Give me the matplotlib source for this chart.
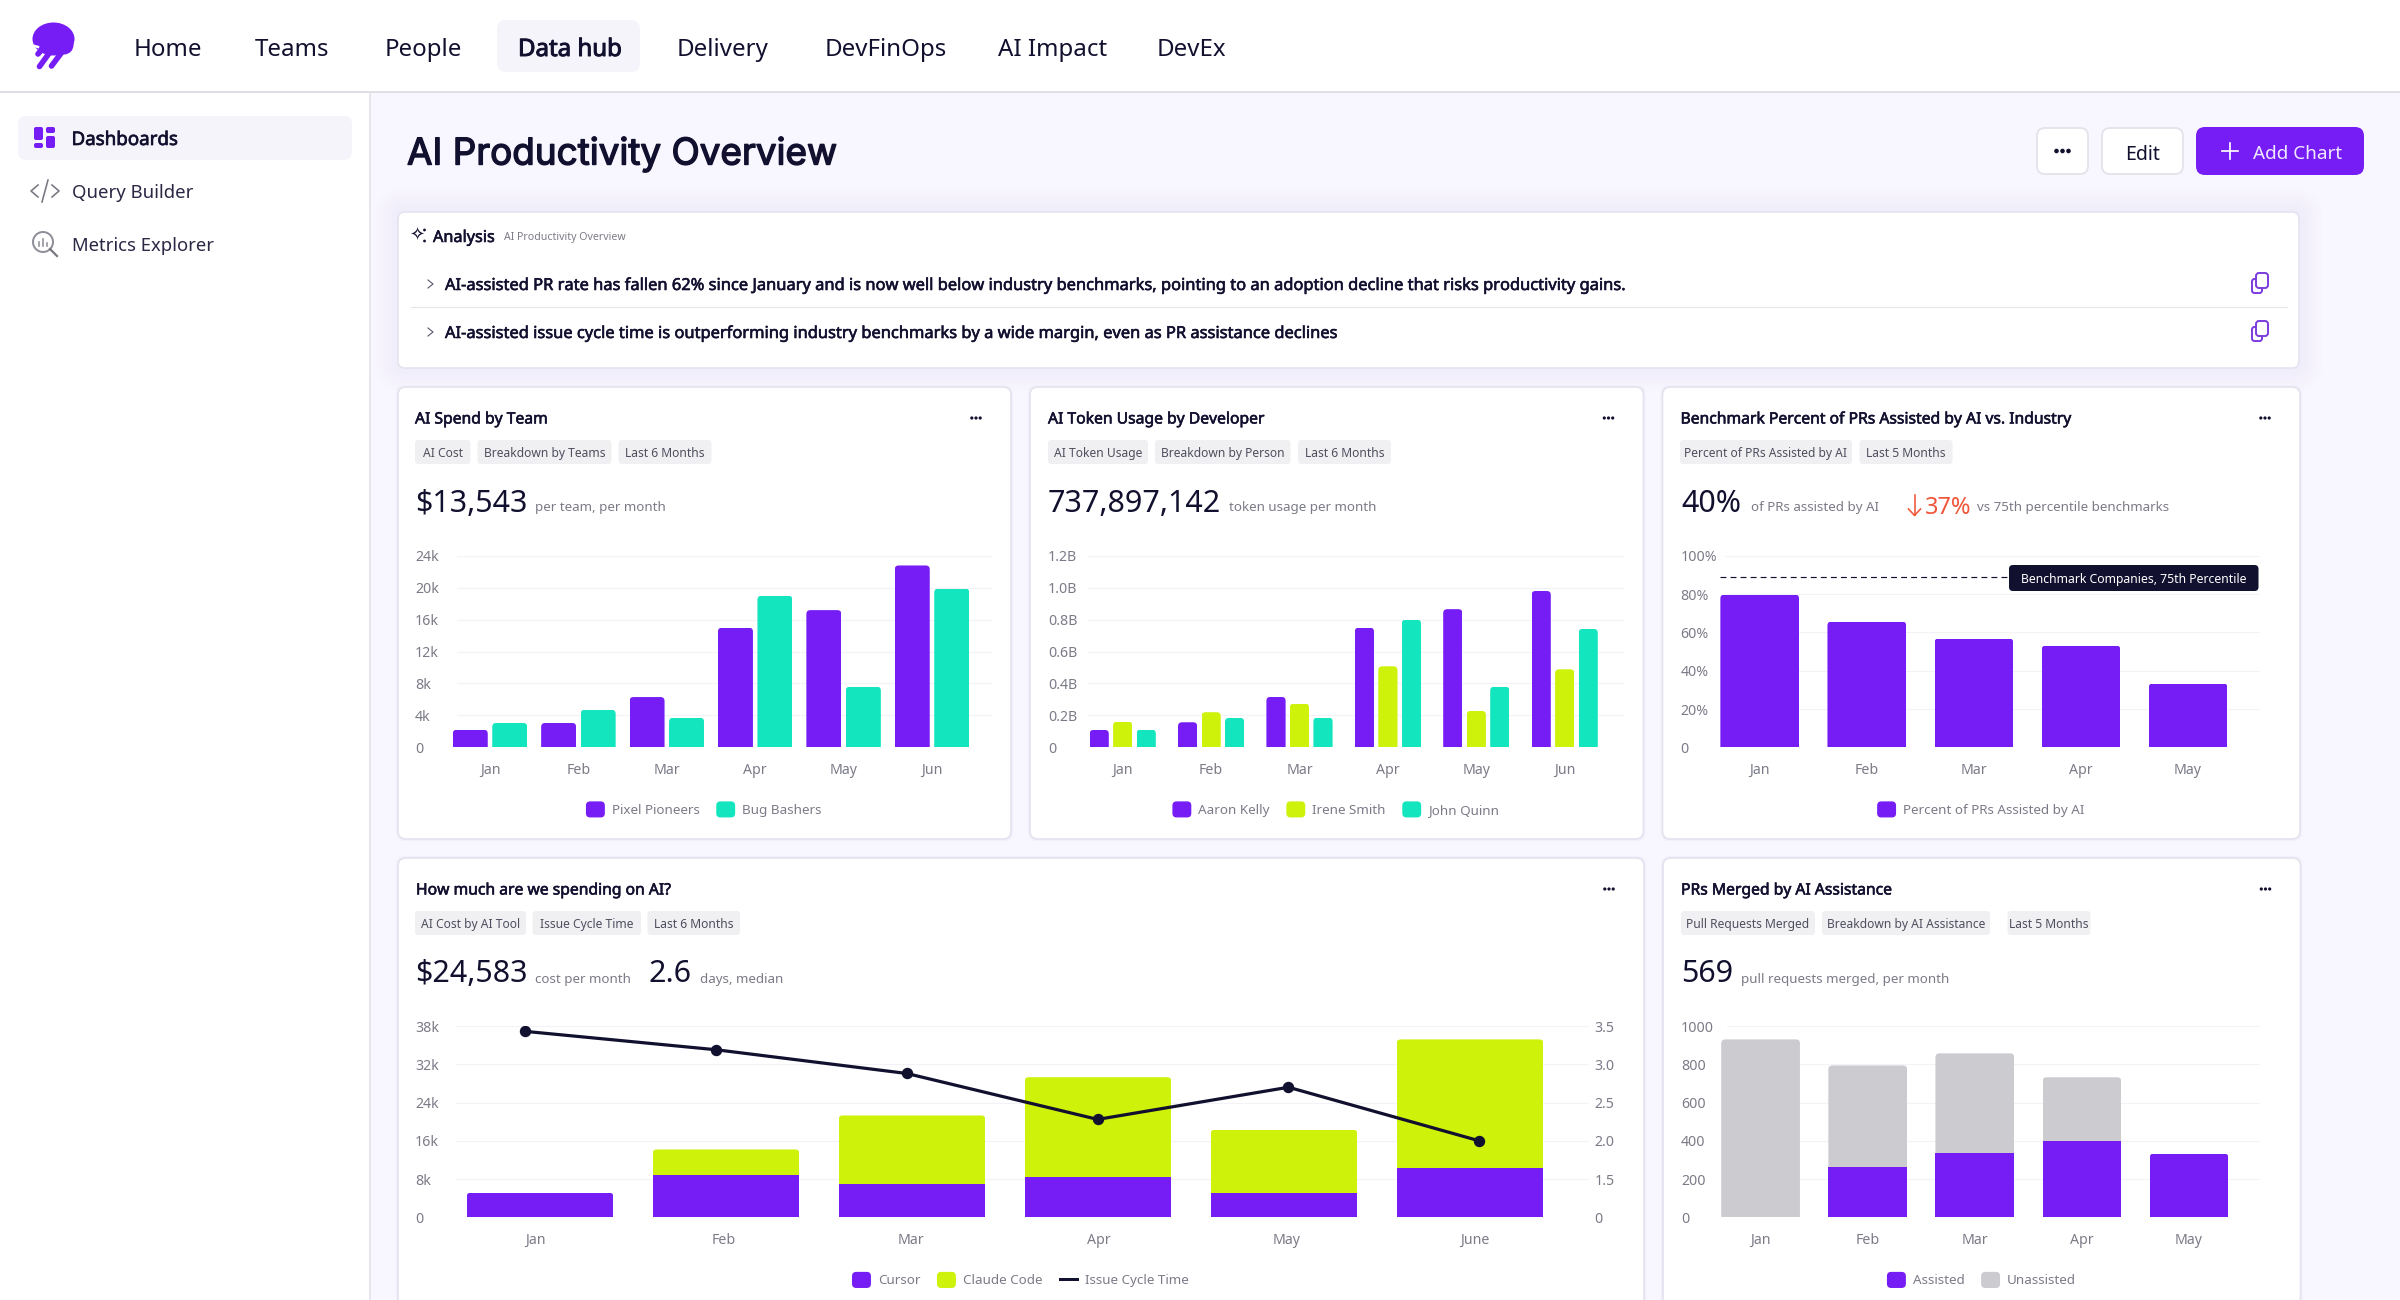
import numpy as np
import matplotlib
matplotlib.use("Agg")
import matplotlib.pyplot as plt
import matplotlib.patheffects as pe
from matplotlib.colors import to_rgb
from matplotlib.patches import FancyBboxPatch, Patch, Ellipse, Circle, Rectangle
from matplotlib.lines import Line2D
from matplotlib.legend_handler import HandlerPatch
from matplotlib.transforms import IdentityTransform

# ---------- data ----------
months6 = ["Jan", "Feb", "Mar", "Apr", "May", "Jun"]
months5 = ["Jan", "Feb", "Mar", "Apr", "May"]
months6b = ["Jan", "Feb", "Mar", "Apr", "May", "June"]

pixel_pioneers = [2.2, 3.05, 6.3, 15.0, 17.2, 22.8]
bug_bashers = [3.05, 4.7, 3.7, 19.0, 7.6, 19.9]
spend_ticks = [0, 4, 8, 12, 16, 20, 24]
spend_labels = ["0", "4k", "8k", "12k", "16k", "20k", "24k"]

aaron_kelly = [0.109, 0.157, 0.316, 0.75, 0.866, 0.98]
irene_smith = [0.161, 0.22, 0.274, 0.508, 0.228, 0.489]
john_quinn = [0.111, 0.184, 0.186, 0.80, 0.38, 0.742]
token_ticks = [0, 0.2, 0.4, 0.6, 0.8, 1.0, 1.2]
token_labels = ["0", "0.2B", "0.4B", "0.6B", "0.8B", "1.0B", "1.2B"]

pct_assisted = [79.8, 65.7, 56.8, 53.1, 33.3]
benchmark_pct = 89
pct_ticks = [0, 20, 40, 60, 80, 100]
pct_labels = ["0", "20%", "40%", "60%", "80%", "100%"]

cursor_cost = [5.16, 8.85, 7.04, 8.5, 5.16, 10.3]
claude_cost = [0, 5.35, 14.26, 20.8, 13.14, 25.6]
cost_ticks = [0, 8, 16, 24, 32, 38]
cost_labels = ["0", "8k", "16k", "24k", "32k", "38k"]
cycle_time = [3.43, 3.19, 2.88, 2.28, 2.70, 2.0]
cycle_ticks = [0, 1.5, 2.0, 2.5, 3.0, 3.5]
cycle_labels = ["0", "1.5", "2.0", "2.5", "3.0", "3.5"]

assisted = [0, 261, 334, 397, 333]
unassisted = [930, 533, 523, 335, 0]
pr_ticks = [0, 200, 400, 600, 800, 1000]
pr_labels = ["0", "200", "400", "600", "800", "1000"]

nav_items = ["Home", "Teams", "People", "Data hub", "Delivery", "DevFinOps", "AI Impact", "DevEx"]
side_items = ["Dashboards", "Query Builder", "Metrics Explorer"]
insights = [
    "AI-assisted PR rate has fallen 62% since January and is now well below industry benchmarks, pointing to an adoption decline that risks productivity gains.",
    "AI-assisted issue cycle time is outperforming industry benchmarks by a wide margin, even as PR assistance declines",
]

# ---------- style ----------
PURPLE = "#761CF5"
TEAL = "#13E5BE"
LIME = "#CEF20A"
GREY = "#CBCBD0"
NAVY = "#12102F"
MUTED = "#7B7B88"
PAGE = "#F8F6FE"
BODY = "Noto Sans"
PX = 0.72  # pt per px at dpi 100

plt.rcParams["font.family"] = [BODY, "DejaVu Sans"]
fig = plt.figure(figsize=(24, 13), dpi=100, facecolor="white")
bg = fig.add_axes([0, 0, 1, 1], zorder=0)
bg.set_xlim(0, 2400)
bg.set_ylim(1300, 0)
bg.axis("off")


def T(x, y, s, size=10, color=NAVY, ha="left", family=None, va="center_baseline", heavy=0, z=3):
    kw = {"family": family} if family else {}
    t = bg.text(x, y, s, fontsize=size, color=color, ha=ha, va=va, zorder=z, **kw)
    if heavy:
        t.set_path_effects([pe.withStroke(linewidth=heavy, foreground=color)])
    return t


def box(x0, y0, x1, y1, r=6, fc="white", ec="none", lw=1, z=1, alpha=None):
    p = FancyBboxPatch((x0 + r, y0 + r), x1 - x0 - 2 * r, y1 - y0 - 2 * r,
                       boxstyle=f"round,pad={r},rounding_size={r}", fc=fc, ec=ec, lw=lw, zorder=z, alpha=alpha)
    bg.add_patch(p)
    return p


def shadow(x0, y0, x1, y1, spread=26, deep="#F0EDFB", z=0.8):
    # opaque rings that fade from the page colour to a slightly deeper lavender
    a, b = np.array(to_rgb(PAGE)), np.array(to_rgb(deep))
    for s in range(spread, 0, -2):
        f = 1 - s / spread
        box(x0 - s, y0 - s, x1 + s, y1 + s, r=8 + s, fc=tuple(a + (b - a) * f), z=z + f / 100)


def dots(x, y, r=1.7, gap=4.5):
    for dx in (-gap, 0, gap):
        bg.add_patch(Circle((x + dx, y), r, fc=NAVY, ec="none", zorder=3))


# ---------- chrome ----------
bg.add_patch(Rectangle((369, 92), 2031, 1208, fc=PAGE, ec="none", zorder=0.2))
bg.plot([0, 2400], [92, 92], color="#DEDEE4", lw=2 * PX, zorder=0.5)
bg.plot([369.5, 369.5], [92, 1300], color="#E2E2E8", lw=1.5 * PX, zorder=0.5)

# logo
bg.add_patch(Ellipse((53.5, 39), 42, 33, fc=PURPLE, ec="none", zorder=2))
bg.add_patch(Circle((64, 45), 9.5, fc=PURPLE, ec="none", zorder=2))
for xs, ys in (([43, 38], [48, 54]), ([50, 39.5], [52, 66.5]), ([62, 51.5], [52, 66])):
    bg.plot(xs, ys, color=PURPLE, lw=5.6 * PX, solid_capstyle="round", zorder=2)
bg.plot([31, 38], [45, 47], color="white", lw=2.5 * PX, zorder=2.1)

box(497, 20, 640, 72, r=9, fc="#F6F4FB")
nav_x = [134, 255, 385, 518, 677, 824.5, 998, 1156.5]
for x, s in zip(nav_x, nav_items):
    T(x, 47, s, size=17.3, heavy=0.7 if s == "Data hub" else 0)

box(18, 116, 352, 160, r=8, fc="#F6F4FB")
for x0, y0, x1, y1 in ((34, 127, 43, 140), (46, 127, 55, 133), (34, 143, 43, 148), (46, 136, 55, 148)):
    box(x0, y0, x1, y1, r=2, fc=PURPLE, z=2)
T(71.5, 138, side_items[0], size=13.5, heavy=0.5)
T(71.5, 191, side_items[1], size=13.35, color="#2A2845")
T(71.5, 244, side_items[2], size=13.3, color="#2A2845")
ICON = "#777782"
bg.plot([38, 31, 38], [185, 191, 197], color=ICON, lw=1.6 * PX, zorder=2)
bg.plot([52, 59, 52], [185, 191, 197], color=ICON, lw=1.6 * PX, zorder=2)
bg.plot([42, 48], [202, 180], color=ICON, lw=1.6 * PX, zorder=2)
bg.add_patch(Circle((43, 242), 10, fc="none", ec="#8F8F99", lw=2 * PX, zorder=2))
bg.plot([50, 57], [249, 256], color=ICON, lw=2.2 * PX, zorder=2)
for dx, h in ((-4, 4), (0, 7), (4, 3)):
    bg.plot([43 + dx, 43 + dx], [246, 246 - h], color="#8F8F99", lw=1.6 * PX, zorder=2)

T(407, 150.5, "AI Productivity Overview", size=26.55, family="Inter", heavy=1.0)

box(2037, 128, 2088, 174, r=8, ec="#E4E3EA", lw=1.3)
dots(2062.5, 151, r=2.3, gap=6)
box(2102, 128, 2183, 174, r=8, ec="#E4E3EA", lw=1.3)
T(2143, 152, "Edit", size=14.1, ha="center")
box(2196, 127, 2364, 175, r=9, fc=PURPLE)
bg.plot([2222, 2238], [151, 151], color="white", lw=1.7 * PX, zorder=3)
bg.plot([2230, 2230], [143, 159], color="white", lw=1.7 * PX, zorder=3)
T(2253, 152, "Add Chart", size=13.6, color="#F0E8FF")

# analysis card
shadow(398, 212, 2299, 368, spread=26, deep="#EFECFA")
box(398, 212, 2299, 368, r=7, ec="#E5E3EF", lw=1.2)
T(409.5, 236, "\u2727", size=13, family="DejaVu Sans", va="center")
bg.add_patch(Circle((424.5, 230), 1.4, fc=NAVY, zorder=3))
bg.add_patch(Circle((424.5, 241), 1.4, fc=NAVY, zorder=3))
T(433, 236, "Analysis", size=11.7, heavy=0.4)
T(503.5, 236, "AI Productivity Overview", size=7.6, color=MUTED)
for y, s in zip((284, 332), insights):
    bg.plot([428, 433, 428], [y - 4, y, y + 4], color="#55556A", lw=1.1 * PX, zorder=3)
    T(445, y, s, size=11.85, heavy=0.42)
    box(2252, y - 5, 2262, y + 9, r=2.5, fc="none", ec="#7D3BE0", lw=1.4, z=3)
    box(2256, y - 11, 2268, y + 4, r=3, fc="white", ec="#7D3BE0", lw=1.4, z=3.1)
bg.plot([411, 2287], [307, 307], color="#E6E5EC", lw=1.2 * PX, zorder=3)

# cards
cards = [
    dict(x=(398, 1011), y=(387, 839), title="AI Spend by Team", tx=415, dots=976,
         pills=[("AI Cost", 415, 470.5), ("Breakdown by Teams", 477.5, 611.5), ("Last 6 Months", 618.5, 711.5)],
         stats=[(415, "$13,543", True), (535, "per team, per month", False)]),
    dict(x=(1030, 1643.5), y=(387, 839), title="AI Token Usage by Developer", tx=1048, dots=1608.5,
         pills=[("AI Token Usage", 1048, 1148), ("Breakdown by Person", 1155, 1290.5), ("Last 6 Months", 1298, 1391)],
         stats=[(1048, "737,897,142", True), (1229, "token usage per month", False)]),
    dict(x=(1662.5, 2300), y=(387, 839), title="Benchmark Percent of PRs Assisted by AI vs. Industry", tx=1680.5, dots=2265,
         pills=[("Percent of PRs Assisted by AI", 1680, 1852), ("Last 5 Months", 1859.5, 1952.5)],
         stats=[(1681, "40%", True), (1751, "of PRs assisted by AI", False), (1977, "vs 75th percentile benchmarks", False)]),
    dict(x=(398, 1644), y=(858, 1340), title="How much are we spending on AI?", tx=416, dots=1609,
         pills=[("AI Cost by AI Tool", 415, 526), ("Issue Cycle Time", 532.5, 641), ("Last 6 Months", 647.5, 740)],
         stats=[(415, "$24,583", True), (535, "cost per month", False), (649, "2.6", True), (700, "days, median", False)]),
    dict(x=(1663, 2300.5), y=(858, 1340), title="PRs Merged by AI Assistance", tx=1681, dots=2265.5,
         pills=[("Pull Requests Merged", 1681, 1815), ("Breakdown by AI Assistance", 1822, 1990), ("Last 5 Months", 2007.5, 2090.5)],
         stats=[(1681, "569", True), (1741, "pull requests merged, per month", False)]),
]
for c in cards:
    x0, x1 = c["x"]
    y0, y1 = c["y"]
    box(x0 - 2, y0 - 2, x1 + 2, y1 + 2, r=9, fc="#F3F0FC", z=0.9)
    box(x0, y0, x1, y1, r=8, ec="#E4E2EE", lw=1.2)
    row = y0 + 31
    T(c["tx"], row - 0.5, c["title"], size=11.3, heavy=0.42)
    dots(c["dots"], row, r=1.6, gap=4.2)
    for s, a, b in c["pills"]:
        box(a, row + 22, b, row + 46, r=3.5, fc="#F0F0F3", z=2)
        T((a + b) / 2, row + 34, s, size=8.7, color="#4E4E5E", ha="center")
    for x, s, big in c["stats"]:
        if big:
            T(x, row + 82, s, size=21.9)
        else:
            T(x, row + 88.5, s, size=9.6, color=MUTED)
# the red delta in the benchmark card
RED = "#F0563A"
bg.plot([1914.5, 1914.5], [495, 515], color=RED, lw=1.6 * PX, zorder=3)
bg.plot([1908.5, 1914.5, 1920.5], [509, 515.5, 509], color=RED, lw=1.6 * PX, zorder=3)
T(1925, 505.5, "37%", size=17, color=RED)

# ---------- charts ----------
rounded = []
TICK = 10.2


def chart_axes(x0, x1, ytop, ybot, c0, step, cats, xlabel_offset=0.0, xlabel_step=1.0):
    W, H = 2400, 1300
    ax = fig.add_axes([x0 / W, 1 - ybot / H, (x1 - x0) / W, (ybot - ytop) / H], zorder=2)
    ax.patch.set_alpha(0)
    for s in ax.spines.values():
        s.set_visible(False)
    ax.set_xlim((x0 - c0) / step, (x1 - c0) / step)
    ax.set_axisbelow(True)
    ax.grid(axis="y", color="#F3F2F7", lw=1.1 * PX)
    ax.set_xticks(np.arange(len(cats)) * xlabel_step + xlabel_offset, cats)
    return ax


def finish_y(ax, ticks, labels, x0, ymax, tx=415):
    ax.set_ylim(0, ymax)
    ax.set_yticks(ticks, labels)
    ax.minorticks_off()
    ax.tick_params(axis="y", length=0, labelsize=TICK, labelcolor=MUTED, pad=(x0 - tx) * PX)
    for t in ax.get_yticklabels():
        t.set_ha("left")
    ax.tick_params(axis="x", length=0, labelsize=TICK, labelcolor=MUTED, pad=11)


def bars(ax, xs, vals, w, color, bottom=None, top=True):
    cont = ax.bar(xs, vals, width=w, bottom=bottom, color=color, linewidth=0)
    if top is True:
        rounded.extend(r for r, v in zip(cont, vals) if v > 0)
    else:
        rounded.extend(r for r, t, v in zip(cont, top, vals) if t and v > 0)
    return cont


def swatch(legend, orig_handle, xdescent, ydescent, width, height, fontsize):
    return FancyBboxPatch((-xdescent + 2, -ydescent + 2), width - 4, height - 4,
                          boxstyle="round,pad=2,rounding_size=2.5")


def add_legend(ax, handles, cx, cy):
    ax.legend(handles=handles, loc="center", bbox_to_anchor=(cx, cy - 1), bbox_transform=bg.transData,
              ncol=len(handles), frameon=False, fontsize=9.7, labelcolor=MUTED,
              handlelength=1.3, handleheight=1.3, handletextpad=0.55, columnspacing=1.3,
              borderpad=0, borderaxespad=0, handler_map={Patch: HandlerPatch(patch_func=swatch)})


ROW1 = (555.9, 747.3)
ROW2 = (1026.0, 1217.4)

# 1: AI Spend by Team
step = 88.4
ax1 = chart_axes(456.5, 992, *ROW1, 490, step, months6)
x = np.arange(6)
w = 35 / step
off = 39.5 / step / 2
bars(ax1, x - off, pixel_pioneers, w, PURPLE)
bars(ax1, x + off, bug_bashers, w, TEAL)
finish_y(ax1, spend_ticks, spend_labels, 456.5, 24)
add_legend(ax1, [Patch(color=PURPLE, label="Pixel Pioneers"), Patch(color=TEAL, label="Bug Bashers")], 704, 810.5)

# 2: Token usage
ax2 = chart_axes(1088, 1624, *ROW1, 1122.7, step, months6)
w = 19.2 / step
off = 23.5 / step
bars(ax2, x - off, aaron_kelly, w, PURPLE)
bars(ax2, x, irene_smith, w, LIME)
bars(ax2, x + off, john_quinn, w, TEAL)
finish_y(ax2, token_ticks, token_labels, 1088, 1.2, tx=1048)
add_legend(ax2, [Patch(color=PURPLE, label="Aaron Kelly"), Patch(color=LIME, label="Irene Smith"),
                 Patch(color=TEAL, label="John Quinn")], 1336, 810.5)

# 3: Benchmark
step3 = 107.1
c3 = 1759.7
ax3 = chart_axes(1725, 2260, *ROW1, c3, step3, months5)
x5 = np.arange(5)
w = 78.7 / step3
bars(ax3, x5, pct_assisted, w, PURPLE)
finish_y(ax3, pct_ticks, pct_labels, 1725, 100, tx=1680.5)
ax3.plot([-w / 2, (2009 - c3) / step3], [benchmark_pct, benchmark_pct], color=NAVY, lw=0.85,
         ls=(0, (5, 3.5)), clip_on=False, zorder=3)
tip = fig.add_axes([2009 / 2400, 1 - 591 / 1300, 249.5 / 2400, 26 / 1300], zorder=4)
tip.set_xlim(0, 249.5)
tip.set_ylim(26, 0)
tip.axis("off")
tip.add_patch(FancyBboxPatch((4, 4), 241.5, 18, boxstyle="round,pad=4,rounding_size=4", fc=NAVY, ec="none",
                             clip_on=False))
tip.text(124.75, 13.5, "Benchmark Companies, 75th Percentile", color="white", fontsize=8.8, ha="center",
         va="center_baseline")
add_legend(ax3, [Patch(color=PURPLE, label="Percent of PRs Assisted by AI")], 1981, 810.5)

# 4: Spend + cycle time
step4 = 186.0
ax4 = chart_axes(456, 1589, *ROW2, 540, step4, months6b, xlabel_offset=-0.023, xlabel_step=1.0097)
w = 146.6 / step4
ax4.set_yscale("function", functions=(
    lambda v: np.interp(v, cost_ticks, np.arange(len(cost_ticks))),
    lambda p: np.interp(p, np.arange(len(cost_ticks)), cost_ticks)))
has_claude = [v > 0 for v in claude_cost]
bars(ax4, x, cursor_cost, w, PURPLE, top=[not h for h in has_claude])
bars(ax4, x, claude_cost, w, LIME, bottom=cursor_cost)
finish_y(ax4, cost_ticks, cost_labels, 456, 38)
ax4b = ax4.twinx()
ax4b.patch.set_alpha(0)
for s in ax4b.spines.values():
    s.set_visible(False)
ax4b.set_yscale("function", functions=(
    lambda v: np.interp(v, cycle_ticks, np.arange(len(cycle_ticks))),
    lambda p: np.interp(p, np.arange(len(cycle_ticks)), cycle_ticks)))
ax4b.plot(np.arange(6) * 1.026 - 0.08, cycle_time, color=NAVY, lw=3.2 * PX, marker="o", ms=10 * PX, zorder=5)
ax4b.set_ylim(0, 3.5)
ax4b.set_yticks(cycle_ticks, cycle_labels)
ax4b.minorticks_off()
ax4b.tick_params(axis="y", length=0, labelsize=TICK, labelcolor=MUTED, pad=4)
add_legend(ax4b, [Patch(color=PURPLE, label="Cursor"), Patch(color=LIME, label="Claude Code"),
                  Line2D([], [], color=NAVY, lw=3 * PX, label="Issue Cycle Time")], 1020.5, 1281)

# 5: PRs merged
ax5 = chart_axes(1727, 2260, *ROW2, 1760.6, step3, months5)
has_un = [v > 0 for v in unassisted]
bars(ax5, x5, assisted, w=78.7 / step3, color=PURPLE, top=[not h for h in has_un])
bars(ax5, x5, unassisted, w=78.7 / step3, color=GREY, bottom=assisted)
finish_y(ax5, pr_ticks, pr_labels, 1727, 1000, tx=1681)
add_legend(ax5, [Patch(color=PURPLE, label="Assisted"), Patch(color=GREY, label="Unassisted")], 1981.7, 1281)

# round the top corners of the top-most bar segments
R = 4
for r in rounded:
    e = r.get_window_extent()
    clip = FancyBboxPatch((e.x0, e.y0 - 2 * R), e.width, e.height + 2 * R,
                          boxstyle=f"round,pad=0,rounding_size={R}", transform=IdentityTransform())
    r.set_clip_path(clip)
    r.set_clip_box(None)

fig.savefig("out.png", dpi=100, facecolor="white")
